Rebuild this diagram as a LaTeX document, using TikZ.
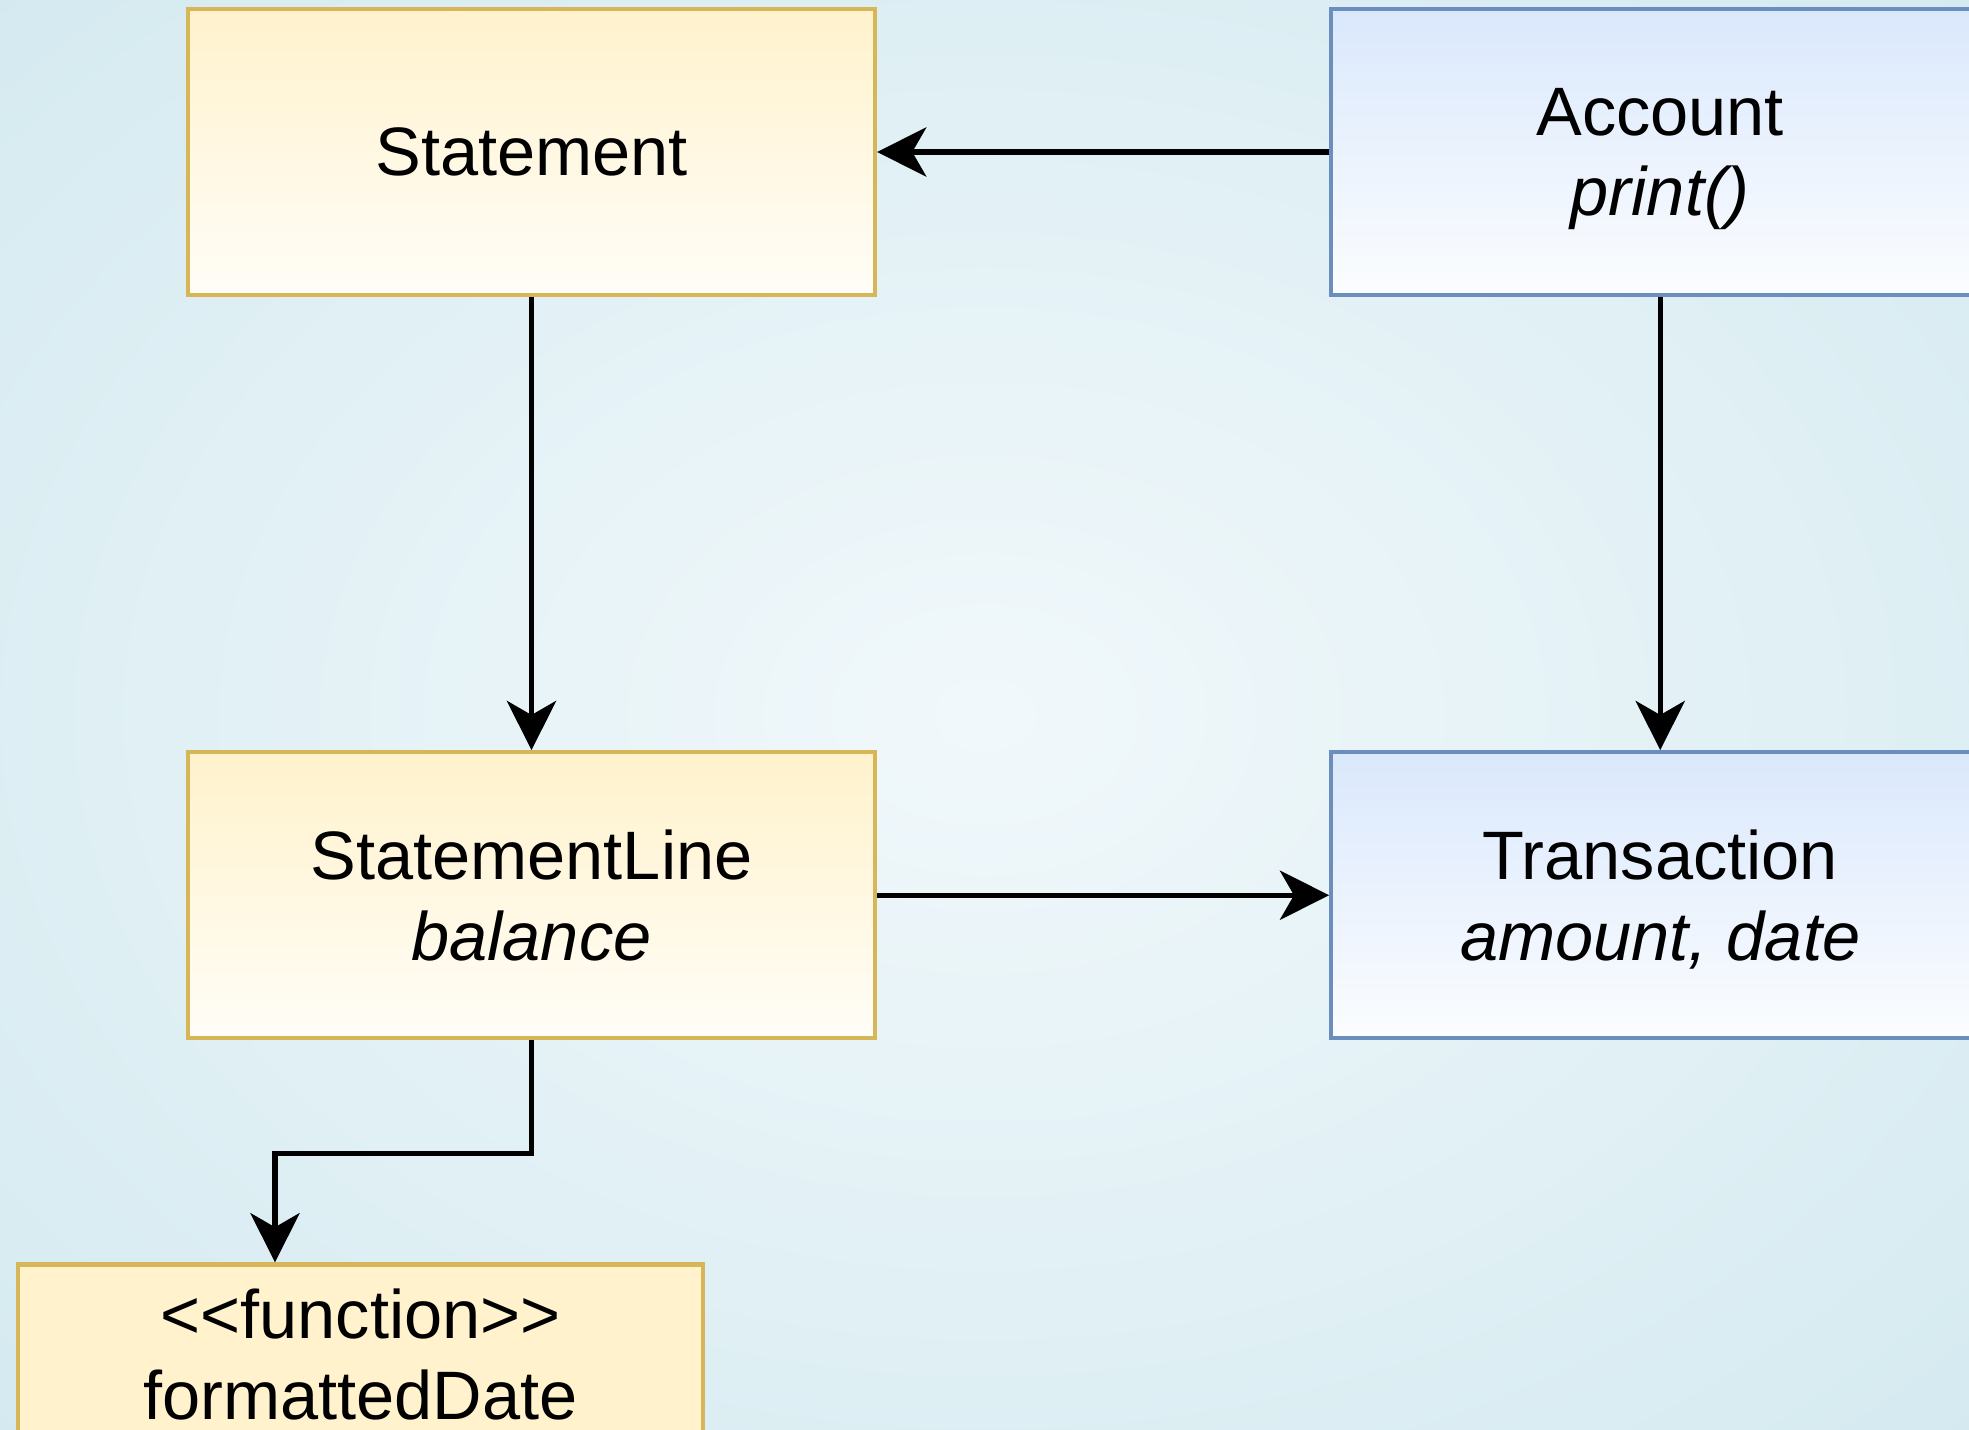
\documentclass[tikz,border=0pt]{standalone}
\usepackage{fontspec}
\setmainfont{Liberation Sans}
\usetikzlibrary{positioning, arrows.meta}
\definecolor{stmfill}{HTML}{FFF2CC}
\definecolor{stmdraw}{HTML}{D6B656}
\definecolor{accfill}{HTML}{DAE8FC}
\definecolor{accdraw}{HTML}{6C8EBF}
\definecolor{bginner}{HTML}{F1F8FB}
\definecolor{bgouter}{HTML}{B9DDE6}
\pgfdeclareradialshading{bgglow}{\pgfpoint{0bp}{0bp}}{color(0bp)=(bginner); color(70bp)=(bgouter); color(90bp)=(bgouter)}

\begin{document}
\begin{tikzpicture}[
    node distance=4.53cm,
    every node/.style={rectangle, line width=1.2pt, inner sep=0pt, align=center, font=\fontsize{19.5}{23}\selectfont},
    yellowbox/.style={draw=stmdraw, top color=stmfill, bottom color=stmfill!15, minimum width=6.87cm, minimum height=2.86cm},
    bluebox/.style={draw=accdraw, top color=accfill, bottom color=accfill!10, minimum width=6.58cm, minimum height=2.86cm},
    funcbox/.style={draw=stmdraw, fill=stmfill, minimum width=6.85cm, minimum height=1.8cm},
    twoline/.style={text depth=-2pt},
    arrow/.style={-{Stealth[length=14pt, width=14pt, inset=4pt]}, line width=1.5pt, draw=black}
]
\useasboundingbox (0,0) rectangle (19.69,-14.29);
\clip (0,0) rectangle (19.69,-14.29);
\shade[shading=bgglow] (0,0) rectangle (19.69,-14.29);

\node[yellowbox] (1) at (5.315,-1.52) {Statement};
\node[bluebox, twoline, right=4.52cm of 1] (2) {Account\\\textit{print()}};
\node[yellowbox, twoline, below=of 1] (3) {StatementLine\\\textit{balance}};
\node[bluebox, twoline, below=of 2] (4) {Transaction\\\textit{amount, date}};
\node[funcbox, twoline, below=2.22cm of 3, xshift=-1.71cm] (5) {<{}<function>{}>\\formattedDate};

\draw[arrow] (2) -- (1);
\draw[arrow] (1) -- (3);
\draw[arrow] (2) -- (4);
\draw[arrow] (3) -- (4);
\draw[arrow] (3.south) -- ++(0,-1.13) -| ([xshift=-8.55mm]5.north);
\end{tikzpicture}
\end{document}
